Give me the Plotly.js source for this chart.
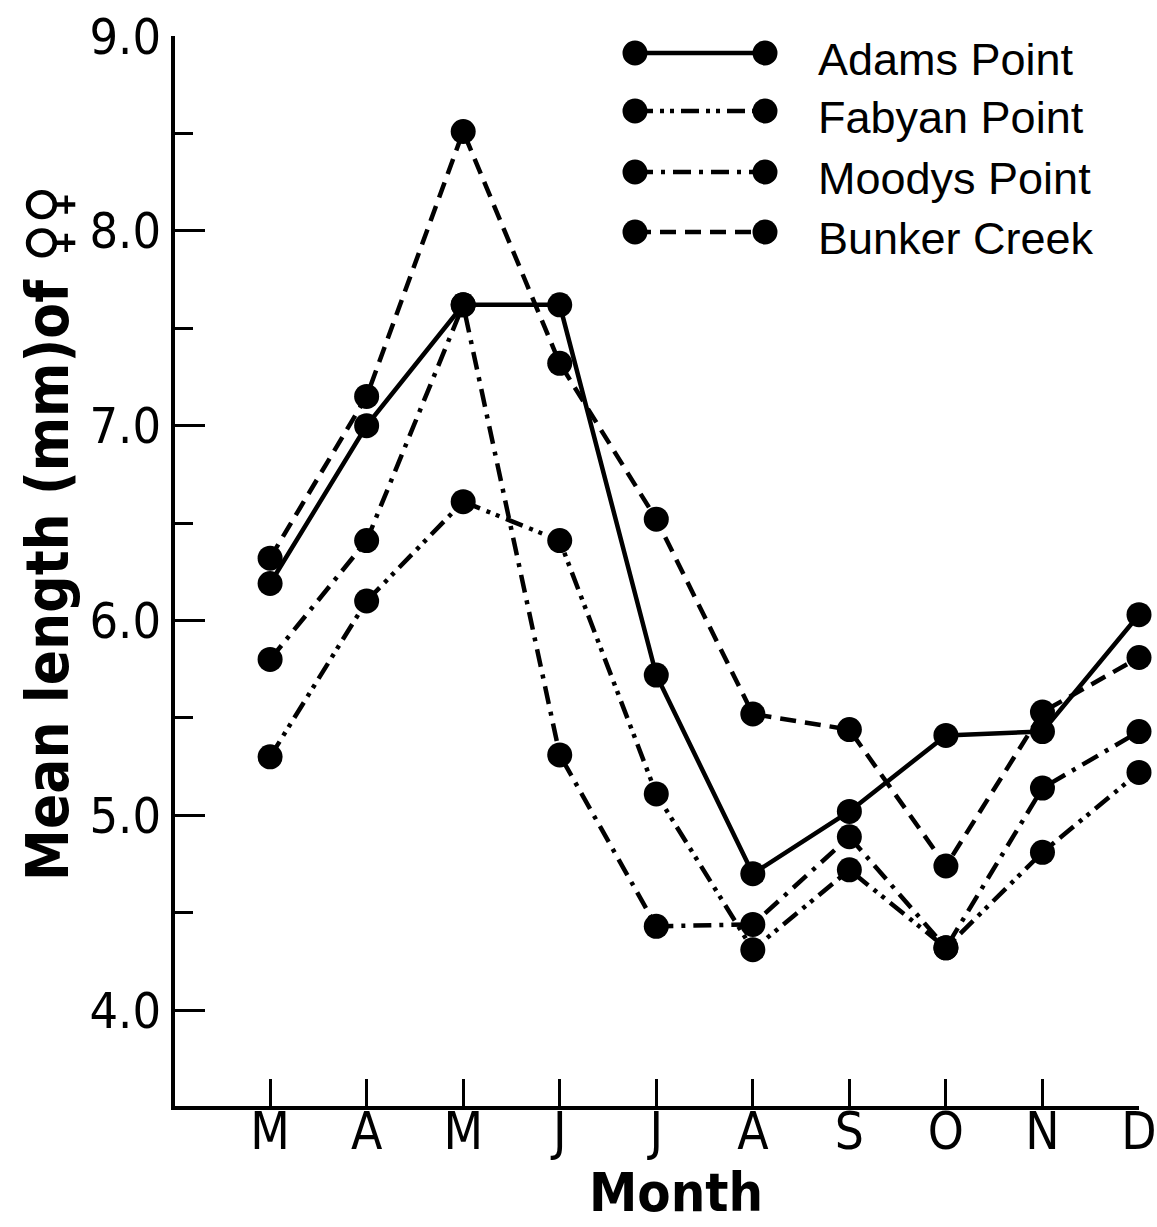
<!DOCTYPE html>
<html>
<head>
<meta charset="utf-8">
<script src="https://cdn.plot.ly/plotly-3.0.1.min.js"></script>
<style>
  html, body { margin: 0; padding: 0; background: #ffffff; }
  #chart { width: 1157px; height: 1227px; }
</style>
</head>
<body>
<div id="chart"></div>
<script>
// Months sampled (March to December) and their axis letters
const months = ['Mar', 'Apr', 'May', 'Jun', 'Jul', 'Aug', 'Sep', 'Oct', 'Nov', 'Dec'];
const monthLetters = ['M', 'A', 'M', 'J', 'J', 'A', 'S', 'O', 'N', 'D'];

// Mean length (mm) of females at each station
const adamsPoint  = [6.19, 7.00, 7.62, 7.62, 5.72, 4.70, 5.02, 5.41, 5.43, 6.03];
const fabyanPoint = [5.30, 6.10, 6.61, 6.41, 5.11, 4.31, 4.72, 4.32, 4.81, 5.22];
const moodysPoint = [5.80, 6.41, 7.62, 5.31, 4.43, 4.44, 4.89, 4.32, 5.14, 5.43];
const bunkerCreek = [6.32, 7.15, 8.51, 7.32, 6.52, 5.52, 5.44, 4.74, 5.53, 5.81];

const seriesNames = ['Adams Point', 'Fabyan Point', 'Moodys Point', 'Bunker Creek'];
const seriesValues = [adamsPoint, fabyanPoint, moodysPoint, bunkerCreek];

// y-axis ticks
const yMajorTicks = [4, 5, 6, 7, 8, 9];
const yMajorLabels = ['4.0', '5.0', '6.0', '7.0', '8.0', '9.0'];
const yMinorTicks = [4.5, 5.5, 6.5, 7.5, 8.5];

// line patterns per station
const dashStyles = ['solid', '18px,7px,4px,6px,4px,7px', '18px,8px,4px,8px', '16px,9px'];

const INK = '#000000';
const LINE_W = 4.5;
const MARKER_D = 25;
const NARROW = '"DejaVu Sans Condensed", "Liberation Sans Narrow", "Liberation Sans", Arial, sans-serif';
const REGULAR = '"Liberation Sans", Arial, sans-serif';

// plot-area geometry in page pixels
const W = 1157, H = 1227;
const M = { l: 175, r: 18, t: 36, b: 121 };
const plotW = W - M.l - M.r;
const plotH = H - M.t - M.b;
const px2x = px => (px - M.l) / plotW;
const py2y = py => (H - M.b - py) / plotH;

const traces = seriesValues.map((vals, i) => ({
  type: 'scatter',
  mode: 'lines+markers',
  name: seriesNames[i],
  x: months,
  y: vals,
  cliponaxis: false,
  showlegend: false,
  line: { color: INK, width: LINE_W, dash: dashStyles[i] },
  marker: { color: INK, size: MARKER_D, symbol: 'circle', line: { width: 0 } }
}));

// legend: a short line ending in two dots, followed by the station name
const legendRowsPx = [53, 111, 172, 232];
const legendLeftPx = 635, legendRightPx = 765, legendTextPx = 816;
const shapes = [];
const annotations = [];
seriesNames.forEach((name, i) => {
  const y = py2y(legendRowsPx[i]);
  shapes.push({
    type: 'line', xref: 'paper', yref: 'paper',
    x0: px2x(legendLeftPx), x1: px2x(legendRightPx), y0: y, y1: y,
    line: { color: INK, width: LINE_W, dash: dashStyles[i] }
  });
  [legendLeftPx, legendRightPx].forEach(px => {
    shapes.push({
      type: 'circle', xref: 'paper', yref: 'paper',
      xsizemode: 'pixel', ysizemode: 'pixel',
      xanchor: px2x(px), yanchor: y,
      x0: -MARKER_D / 2, x1: MARKER_D / 2, y0: -MARKER_D / 2, y1: MARKER_D / 2,
      fillcolor: INK, line: { width: 0 }
    });
  });
  annotations.push({
    xref: 'paper', yref: 'paper',
    x: px2x(legendTextPx), y: py2y(legendRowsPx[i] + 6),
    xanchor: 'left', yanchor: 'middle', showarrow: false,
    text: name,
    font: { family: REGULAR, size: 45, color: INK }
  });
});

// axis titles
annotations.push({
  xref: 'paper', yref: 'paper',
  x: px2x(48), y: py2y(533),
  xanchor: 'center', yanchor: 'middle', showarrow: false,
  textangle: -90,
  text: 'Mean length (mm)of \u2640\u2640',
  font: { family: NARROW, size: 58, color: INK, weight: 'bold' }
});
annotations.push({
  xref: 'paper', yref: 'paper',
  x: px2x(676), y: py2y(1226),
  xanchor: 'center', yanchor: 'bottom', showarrow: false,
  text: 'Month',
  font: { family: NARROW, size: 54, color: INK, weight: 'bold' }
});

const layout = {
  width: W, height: H,
  margin: M,
  paper_bgcolor: '#ffffff',
  plot_bgcolor: '#ffffff',
  showlegend: false,
  xaxis: {
    type: 'category',
    categoryorder: 'array',
    categoryarray: months,
    range: [-0.985, 9],
    tickmode: 'array',
    tickvals: months,
    ticktext: monthLetters,
    ticks: 'inside', ticklen: 27, tickwidth: 3, tickcolor: INK,
    ticklabelstandoff: -22,
    showline: true, linecolor: INK, linewidth: 3.5,
    showgrid: false, zeroline: false,
    tickfont: { family: NARROW, size: 51, color: INK }
  },
  yaxis: {
    range: [3.508, 9.0],
    tickmode: 'array',
    tickvals: yMajorTicks,
    ticktext: yMajorLabels,
    ticks: 'inside', ticklen: 30, tickwidth: 3, tickcolor: INK,
    ticklabelstandoff: 0,
    minor: { tickmode: 'array', tickvals: yMinorTicks, ticks: 'inside', ticklen: 18, tickwidth: 3, tickcolor: INK, showgrid: false },
    showline: true, linecolor: INK, linewidth: 4,
    showgrid: false, zeroline: false,
    tickfont: { family: NARROW, size: 50, color: INK }
  },
  shapes: shapes,
  annotations: annotations
};

Plotly.newPlot('chart', traces, layout, { staticPlot: true, displayModeBar: false });
</script>
</body>
</html>
